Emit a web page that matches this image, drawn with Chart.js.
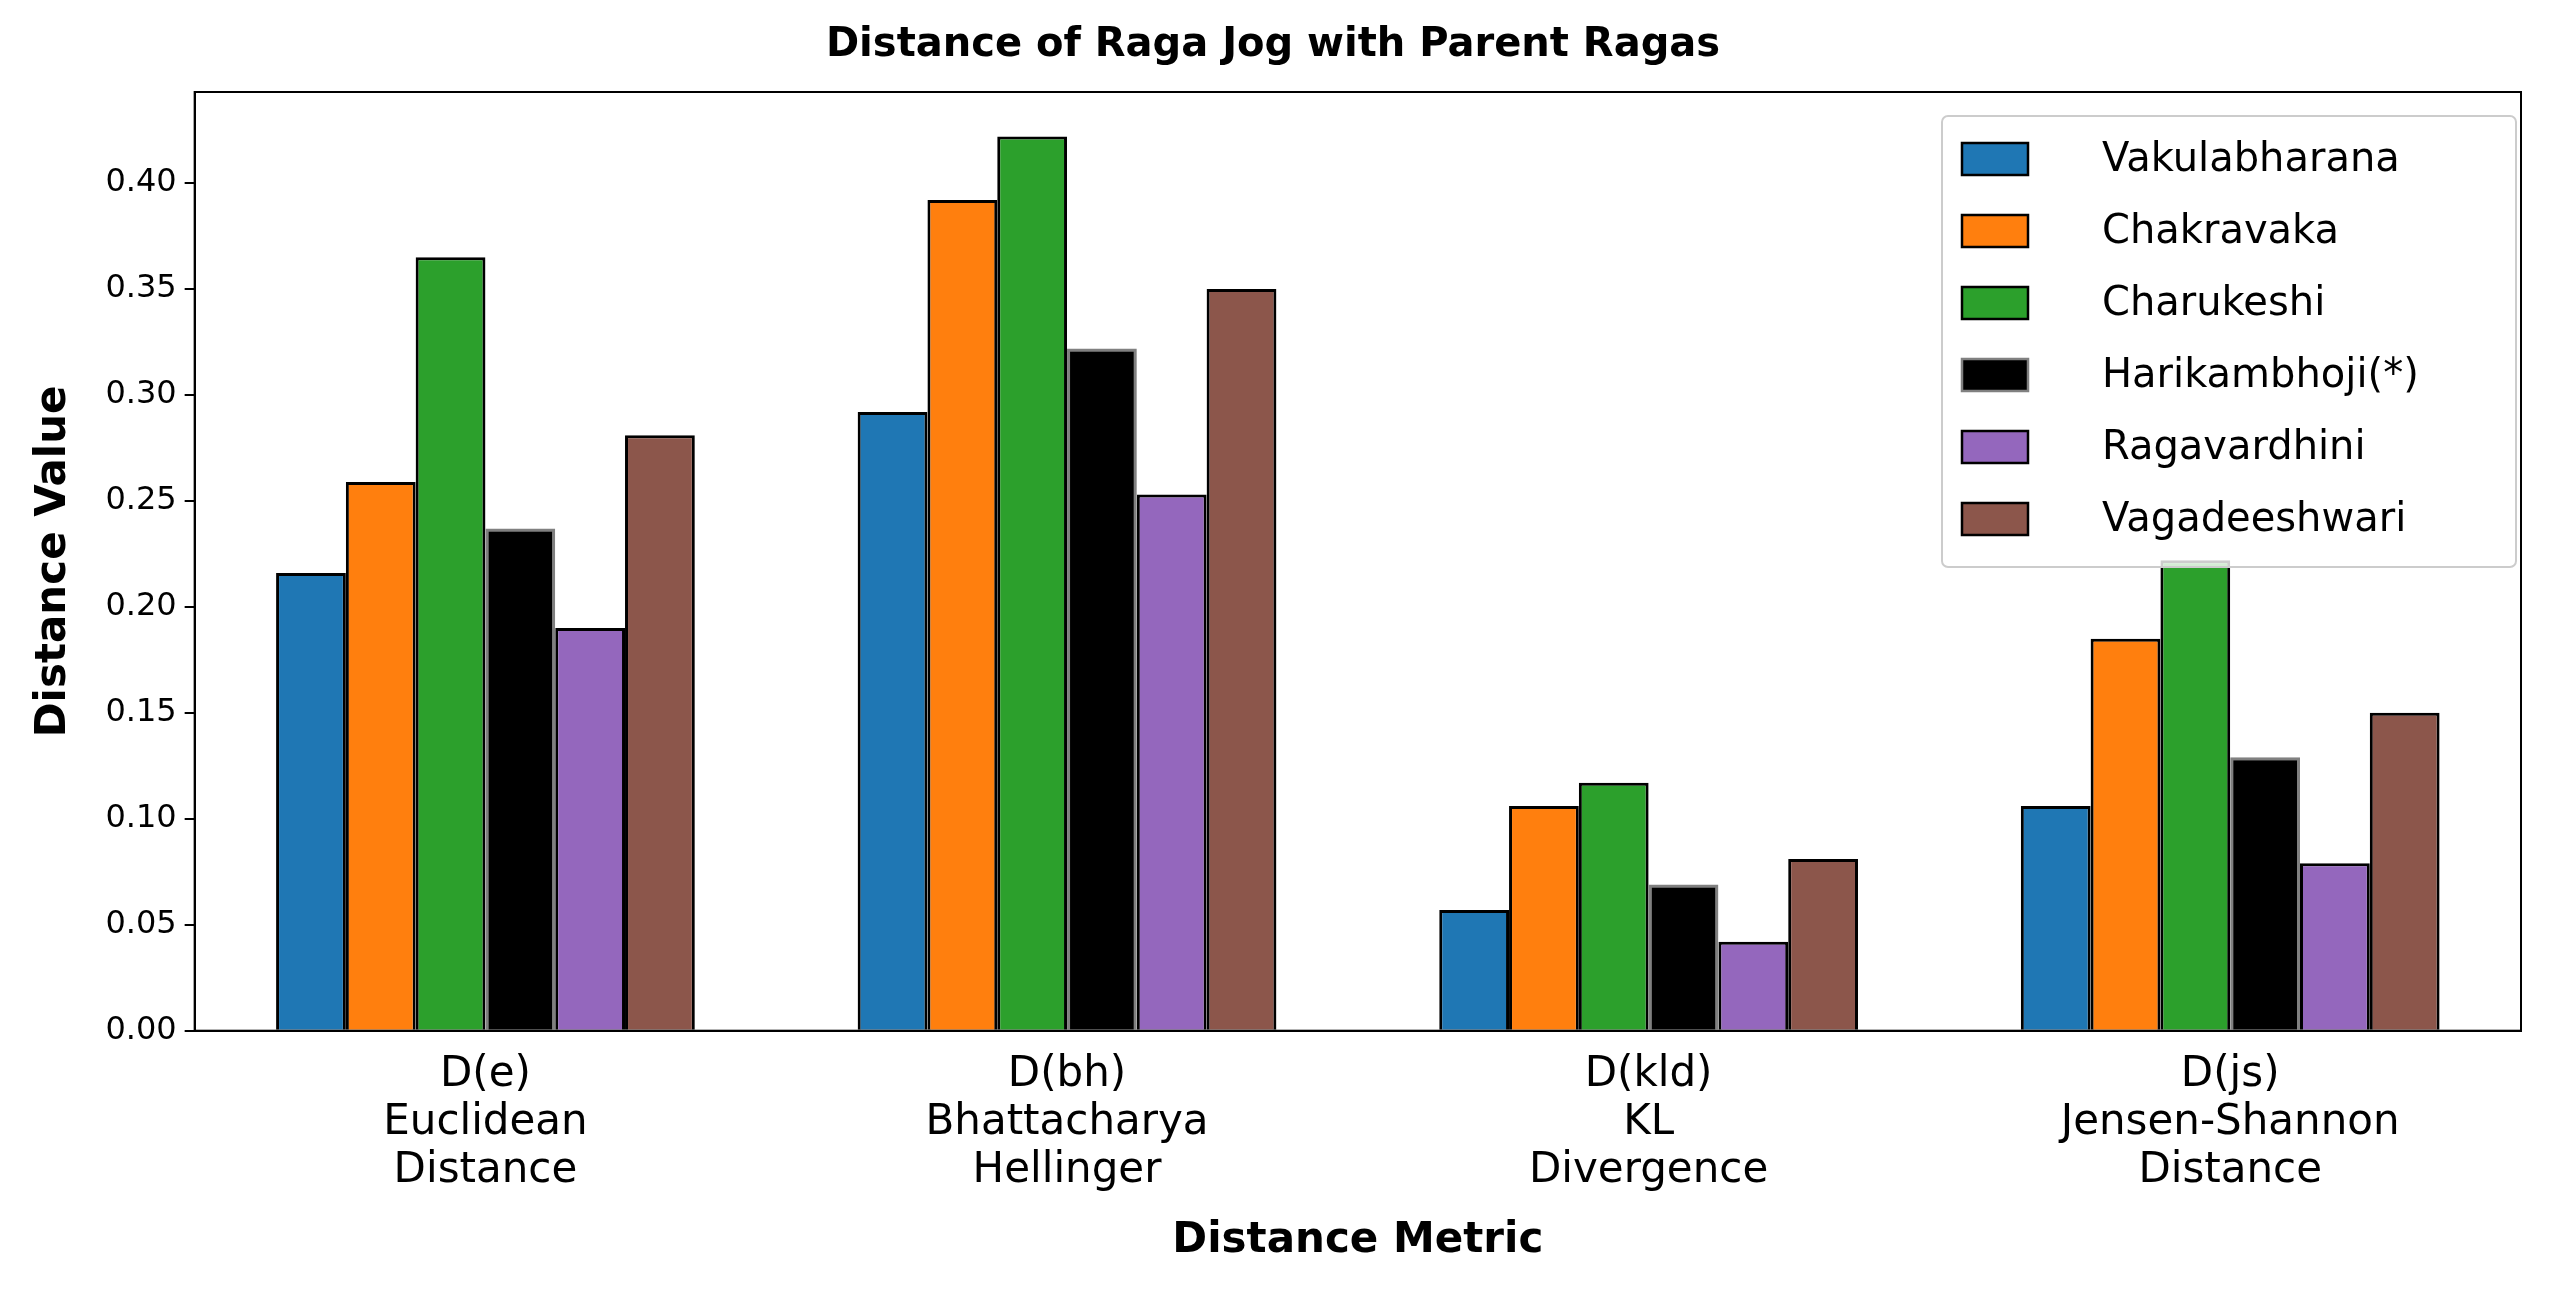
<!DOCTYPE html>
<html>
<head>
<meta charset="utf-8">
<script src="https://cdn.jsdelivr.net/npm/chart.js@4/dist/chart.umd.min.js"></script>
<style>
  body { margin: 0; background: #fff; }
  #wrap { width: 2571px; height: 1300px; }
</style>
</head>
<body>
<div id="wrap"><canvas id="c"></canvas></div>
<script>
// categories and values
const metrics = [['D(e)', 'Euclidean', 'Distance'], ['D(bh)', 'Bhattacharya', 'Hellinger'], ['D(kld)', 'KL', 'Divergence'], ['D(js)', 'Jensen-Shannon', 'Distance']];
const ragas = ['Vakulabharana', 'Chakravaka', 'Charukeshi', 'Harikambhoji(*)', 'Ragavardhini', 'Vagadeeshwari'];
const vakulabharana = [0.216, 0.292, 0.057, 0.106];
const chakravaka = [0.259, 0.392, 0.106, 0.185];
const charukeshi = [0.365, 0.422, 0.117, 0.222];
const harikambhoji = [0.237, 0.322, 0.069, 0.129];
const ragavardhini = [0.190, 0.253, 0.042, 0.079];
const vagadeeshwari = [0.281, 0.350, 0.081, 0.150];
const colors = ['#1f77b4', '#ff7f0e', '#2ca02c', '#000000', '#9467bd', '#8c564b'];
const edges = ['#000', '#000', '#000', '#808080', '#000', '#000'];
const series = [vakulabharana, chakravaka, charukeshi, harikambhoji, ragavardhini, vagadeeshwari];

// frame around the plot + legend inside, top right, like matplotlib
const boxLegend = {
  id: 'boxLegend',
  afterDraw(chart) {
    const ctx = chart.ctx, a = chart.chartArea;
    ctx.save();
    ctx.strokeStyle = '#000';
    ctx.lineWidth = 2;
    ctx.strokeRect(a.left, a.top, a.right - a.left, a.bottom - a.top);
    const w = 574, h = 451, x = a.right - w - 5, y = a.top + 24;
    ctx.fillStyle = 'rgba(255,255,255,0.8)';
    ctx.strokeStyle = '#ccc';
    ctx.beginPath();
    ctx.roundRect(x, y, w, h, 6);
    ctx.fill(); ctx.stroke();
    ctx.font = '40px "DejaVu Sans"';
    ctx.textBaseline = 'middle';
    chart.data.datasets.forEach((ds, i) => {
      const ry = y + 43 + i * 72;
      ctx.fillStyle = ds.backgroundColor;
      ctx.fillRect(x + 20, ry - 16, 66, 32);
      ctx.strokeStyle = ds.borderColor;
      ctx.lineWidth = 2.5;
      ctx.strokeRect(x + 20, ry - 16, 66, 32);
      ctx.fillStyle = '#000';
      ctx.fillText(ds.label, x + 160, ry + 2);
    });
    ctx.restore();
  }
};

new Chart(document.getElementById('c'), {
  type: 'bar',
  data: {
    labels: metrics,
    datasets: ragas.map((r, i) => ({
      label: r,
      data: series[i],
      backgroundColor: colors[i],
      borderColor: edges[i],
      borderWidth: 3,
      barPercentage: 1,
      categoryPercentage: 0.72
    }))
  },
  options: {
    responsive: true,
    maintainAspectRatio: false,
    animation: false,
    layout: { padding: { top: 10, right: 50, bottom: 30, left: 25 } },
    plugins: {
      legend: { display: false },
      tooltip: { enabled: false },
      title: {
        display: true,
        text: 'Distance of Raga Jog with Parent Ragas',
        color: '#000',
        font: { family: 'DejaVu Sans', size: 40, weight: 'bold' },
        padding: { top: 12, bottom: 22 }
      }
    },
    scales: {
      x: {
        grid: { display: false },
        border: { color: '#000', width: 2 },
        ticks: { color: '#000', font: { family: 'DejaVu Sans', size: 42, lineHeight: 1.15 }, padding: 12 },
        title: {
          display: true, text: 'Distance Metric', color: '#000',
          font: { family: 'DejaVu Sans', size: 42, weight: 'bold' }, padding: { top: 8 }
        }
      },
      y: {
        min: 0,
        max: 0.443,
        afterBuildTicks(axis) {
          axis.ticks = [0, 0.05, 0.1, 0.15, 0.2, 0.25, 0.3, 0.35, 0.4].map(v => ({ value: v }));
        },
        grid: { drawOnChartArea: false, drawTicks: true, tickLength: 10, color: '#000', lineWidth: 2 },
        border: { color: '#000', width: 2 },
        ticks: {
          color: '#000', font: { family: 'DejaVu Sans', size: 32 }, padding: 8,
          callback: v => v.toFixed(2)
        },
        title: {
          display: true, text: 'Distance Value', color: '#000',
          font: { family: 'DejaVu Sans', size: 42, weight: 'bold' }, padding: { bottom: 18 }
        }
      }
    }
  },
  plugins: [boxLegend]
});
</script>
</body>
</html>
